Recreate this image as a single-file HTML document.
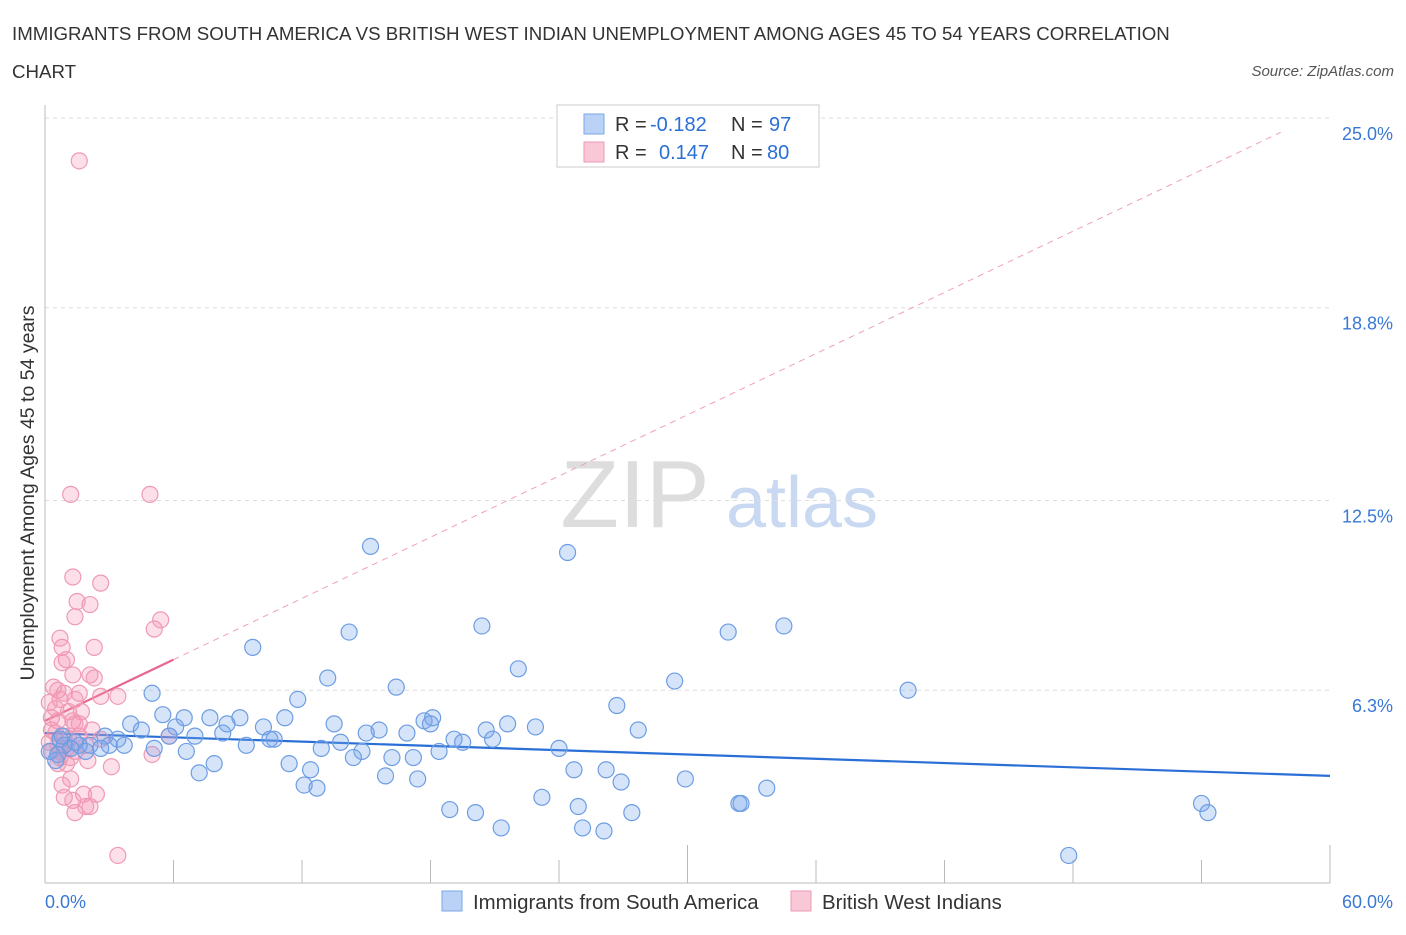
<!DOCTYPE html>
<html><head><meta charset="utf-8"><style>
body{margin:0;background:#fff;font-family:"Liberation Sans",sans-serif}
svg text{font-family:"Liberation Sans",sans-serif}
</style></head><body>
<svg id="chart" width="1406" height="930" xmlns="http://www.w3.org/2000/svg">
<text x="12" y="40" font-size="18.7" fill="#333">IMMIGRANTS FROM SOUTH AMERICA VS BRITISH WEST INDIAN UNEMPLOYMENT AMONG AGES 45 TO 54 YEARS CORRELATION</text>
<text x="12" y="78" font-size="18.7" fill="#333">CHART</text>
<text x="1394" y="76" font-size="15" fill="#555" font-style="italic" text-anchor="end">Source: ZipAtlas.com</text>
<g>
<text x="635" y="527" font-size="96" fill="#ddd" font-family="Liberation Serif,serif" text-anchor="middle">ZIP</text>
<text x="802" y="527" font-size="72" fill="#c9d9f2" text-anchor="middle">atlas</text>
</g>
<g id="grid"></g><g id="axes"></g><g id="trend"></g><g id="pts"></g>
<text transform="translate(34,493) rotate(-90)" font-size="19.5" fill="#333" text-anchor="middle">Unemployment Among Ages 45 to 54 years</text>
<g>
<rect x="557" y="105" width="262" height="62" fill="#fff" stroke="#ccc"/>
<rect x="584" y="114" width="20" height="20" fill="#b9d2f5" stroke="#7aa7e6"/>
<rect x="584" y="142" width="20" height="20" fill="#f9c8d6" stroke="#ef9ab5"/>
<text x="615" y="131" font-size="20" fill="#333">R =</text>
<text x="650" y="131" font-size="20" fill="#2a6fd6">-0.182</text>
<text x="731" y="131" font-size="20" fill="#333">N =</text>
<text x="769" y="131" font-size="20" fill="#2a6fd6">97</text>
<text x="615" y="159" font-size="20" fill="#333">R =</text>
<text x="659" y="159" font-size="20" fill="#2a6fd6">0.147</text>
<text x="731" y="159" font-size="20" fill="#333">N =</text>
<text x="767" y="159" font-size="20" fill="#2a6fd6">80</text>
</g>
<g>
<rect x="442" y="891" width="20" height="20" fill="#b9d2f5" stroke="#7aa7e6"/>
<text x="473" y="909" font-size="20.4" fill="#333">Immigrants from South America</text>
<rect x="791" y="891" width="20" height="20" fill="#f9c8d6" stroke="#ef9ab5"/>
<text x="822" y="909" font-size="20.4" fill="#333">British West Indians</text>
</g>
</svg>
<script>
const blueX=[15.2,24.4,14.2,20.4,31.9,34.5,9.7,22.1,13.2,29.4,16.4,40.3,5.0,11.8,26.7,5.5,7.7,9.1,11.2,6.5,4.0,8.5,10.2,13.5,17.7,18.1,18.0,21.6,22.9,15.6,15.0,16.9,20.6,27.7,4.5,6.1,8.3,7.0,10.7,10.5,2.8,3.4,5.8,19.1,19.5,20.9,13.8,12.9,9.4,6.6,5.1,3.7,3.0,2.1,1.6,0.7,0.2,0.5,1.2,14.8,14.4,16.2,17.2,18.4,24.0,7.9,11.4,7.2,12.4,24.7,26.2,15.9,17.4,29.9,26.9,12.1,12.7,23.2,18.9,20.1,24.9,27.4,32.4,32.5,33.7,54.0,54.3,21.3,25.1,26.1,47.8,0.9,1.4,1.9,2.6,0.6,0.8];
const blueY=[11.0,10.8,8.2,8.4,8.2,8.4,7.7,7.0,6.7,6.6,6.4,6.3,6.2,6.0,5.8,5.5,5.4,5.4,5.4,5.4,5.2,5.2,5.1,5.2,5.3,5.4,5.2,5.2,5.1,5.0,4.9,4.9,5.0,5.0,5.0,5.1,4.9,4.8,4.7,4.7,4.8,4.7,4.8,4.7,4.6,4.7,4.6,4.4,4.5,4.3,4.4,4.5,4.5,4.5,4.5,4.7,4.3,4.0,4.4,4.3,4.1,4.1,4.1,4.3,4.4,3.9,3.9,3.6,3.7,3.7,3.7,3.5,3.4,3.4,3.3,3.2,3.1,2.8,2.4,2.3,2.5,2.3,2.6,2.6,3.1,2.6,2.3,1.8,1.8,1.7,0.9,4.5,4.6,4.3,4.4,4.2,4.8];
const pinkX=[1.6,1.2,4.9,1.3,2.6,1.5,2.1,1.4,5.4,5.1,0.7,0.8,2.3,1.0,0.8,2.1,2.3,1.3,0.4,0.6,0.9,1.6,2.6,3.4,0.7,0.2,1.4,1.7,1.1,0.3,0.6,1.3,1.4,2.2,0.5,0.9,1.6,1.1,0.2,0.6,1.0,1.4,1.9,0.3,0.7,1.2,2.0,5.8,5.0,3.1,1.2,0.8,2.4,1.8,0.9,1.3,2.1,1.9,1.4,3.4,0.3,0.5,0.7,1.0,0.6,2.6,1.6];
const pinkY=[23.6,12.7,12.7,10.0,9.8,9.2,9.1,8.7,8.6,8.3,8.0,7.7,7.7,7.3,7.2,6.8,6.7,6.8,6.4,6.3,6.2,6.2,6.1,6.1,6.0,5.9,6.0,5.6,5.6,5.4,5.3,5.3,5.2,5.0,4.9,4.8,4.8,4.7,4.6,4.5,4.4,4.3,4.5,4.3,4.1,4.1,4.0,4.8,4.2,3.8,3.4,3.2,2.9,2.9,2.8,2.7,2.5,2.5,2.3,0.9,5.0,5.7,4.3,3.9,3.9,4.7,5.2];
const yTicks=[6.3,12.5,18.8,25.0];
const yTickLabels=["6.3%","12.5%","18.8%","25.0%"];
const blueTrend=[4.9,3.5]; // at x=0 and x=60
const pinkTrend=[5.3,7.3]; // at x=0 and x=6
const pinkDash=[6,57.7];

const NS="http://www.w3.org/2000/svg";
const X=v=>45+v*(1285/60);
const Y=v=>883-v*(765/25);
function mk(tag,attrs,parent){const e=document.createElementNS(NS,tag);for(const k in attrs)e.setAttribute(k,attrs[k]);document.getElementById(parent).appendChild(e);return e;}
yTicks.forEach((t,i)=>{
  const g=mk('line',{x1:45,x2:1330,y1:Y(t),y2:Y(t),stroke:'#ddd','stroke-dasharray':'4,4'},'grid');
  
  
  const tx=mk('text',{x:1393,y:Y(t)+22,'font-size':18,fill:'#3a78d6','text-anchor':'end'},'grid');
  tx.textContent=yTickLabels[i];
  
  
});
let a=mk('line',{x1:45,x2:1330,y1:883,y2:883,stroke:'#bbb'},'axes');


a=mk('line',{x1:45,x2:45,y1:105,y2:883,stroke:'#bbb'},'axes');


for(let i=1;i<=10;i++){
  const t=mk('line',{x1:X(i*6),x2:X(i*6),y1:(i==5||i==10)?845:860,y2:883,stroke:'#bbb'},'axes');
  
  
}
let l=mk('text',{x:45,y:908,'font-size':18,fill:'#3a78d6'},'axes');l.textContent='0.0%';


l=mk('text',{x:1393,y:908,'font-size':18,fill:'#3a78d6','text-anchor':'end'},'axes');l.textContent='60.0%';


pinkX.forEach((v,i)=>{
  const c=mk('circle',{cx:X(v),cy:Y(pinkY[i]),r:8,fill:'rgba(244,150,180,0.3)',stroke:'#ef9ab5','stroke-width':1.2},'pts');
  
  
});
blueX.forEach((v,i)=>{
  const c=mk('circle',{cx:X(v),cy:Y(blueY[i]),r:8,fill:'rgba(120,165,235,0.3)',stroke:'#6d9de2','stroke-width':1.2},'pts');
  
  
});
const slope=(pinkTrend[1]-pinkTrend[0])/6;
let t=mk('line',{x1:X(pinkDash[0]),y1:Y(pinkTrend[0]+slope*pinkDash[0]),x2:X(pinkDash[1]),y2:Y(pinkTrend[0]+slope*pinkDash[1]),stroke:'#eea0b8','stroke-dasharray':'6,5','stroke-width':1},'trend');


t=mk('line',{x1:X(0),y1:Y(blueTrend[0]),x2:X(60),y2:Y(blueTrend[1]),stroke:'#2a6fd6','stroke-width':2.2},'trend');


t=mk('line',{x1:X(0),y1:Y(pinkTrend[0]),x2:X(6),y2:Y(pinkTrend[1]),stroke:'#e8668f','stroke-width':2.2},'trend');


</script>
</body></html>
